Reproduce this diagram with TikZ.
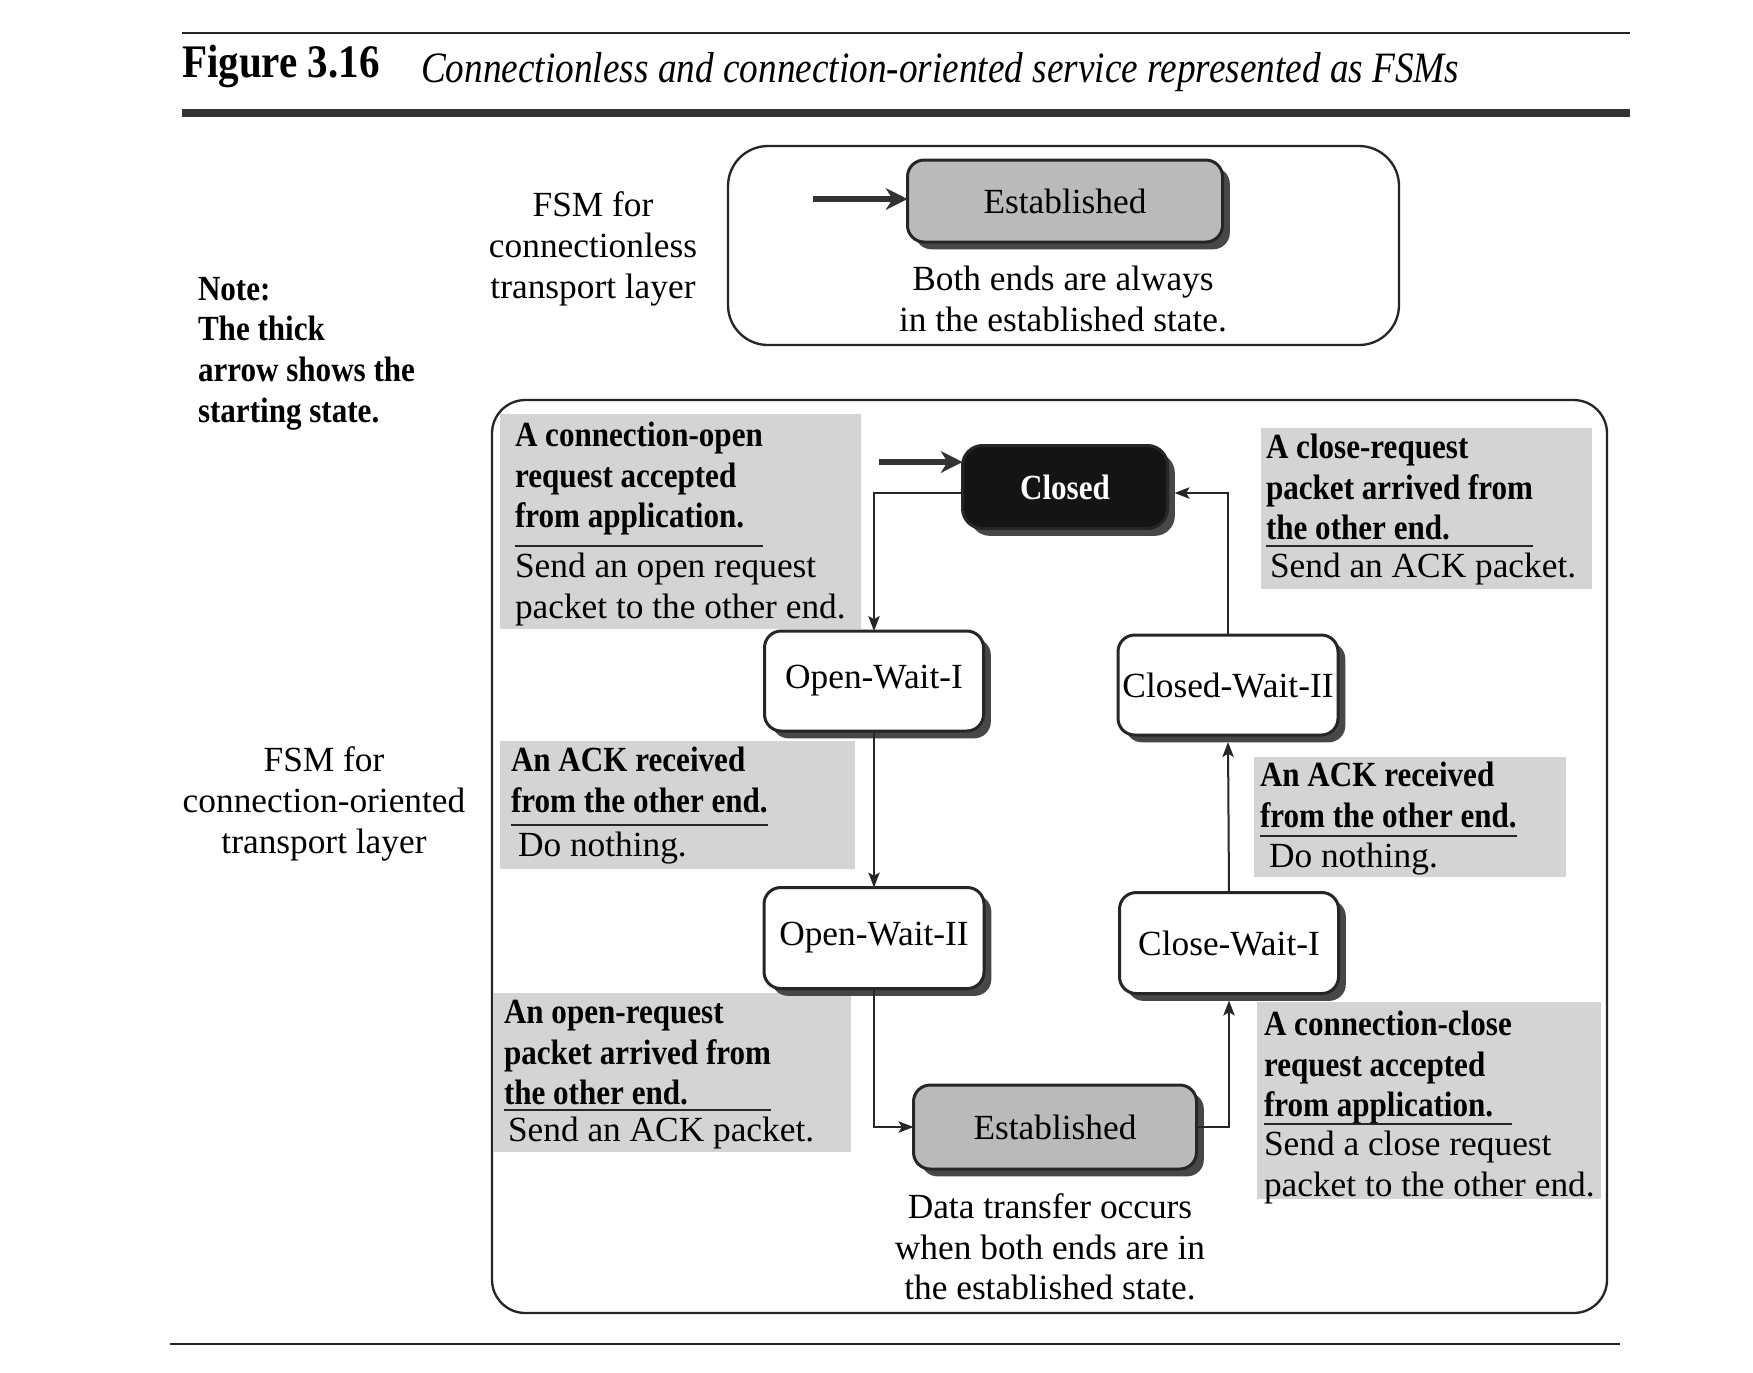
\documentclass[tikz,border=0pt]{standalone}
\usepackage{fontspec}
\setmainfont{Liberation Serif}[BoldFeatures={FakeStretch=0.88}]
\newfontfamily\capfont{Liberation Serif}[FakeStretch=0.86]
\usetikzlibrary{arrows.meta,shadows,calc}

\begin{document}
\begin{tikzpicture}[x=0.3pt,y=-0.3pt,
  every node/.style={inner sep=0pt,outer sep=0pt},
  txt/.style={font=\fontsize{10.6}{12.2}\selectfont},
  fsmlabel/.style={txt,align=center},
  condtxt/.style={font=\fontsize{10.6}{12.2}\selectfont\bfseries,align=left,anchor=north west},
  acttxt/.style={txt,align=left,anchor=north west},
  frameline/.style={draw=black!85,line width=0.7pt},
  statebox/.style={draw=black!85,line width=0.9pt,rounded corners=5pt,align=center,txt,
     drop shadow={shadow xshift=2.2pt,shadow yshift=-2.2pt,fill=black!72,opacity=1}},
  stateplain/.style={statebox,fill=white},
  stateest/.style={statebox,fill=black!27},
  statestart/.style={statebox,fill=black!92,text=white,
     font=\fontsize{10.6}{12}\selectfont\bfseries,rounded corners=6pt},
  trans/.style={draw=black!85,line width=0.6pt,-{Stealth[length=4.5pt,width=3.4pt,inset=1pt]}},
  initarrow/.style={draw=black!80,line width=2pt,-{Stealth[length=6.5pt,width=6.5pt,inset=2pt]}},
  seprule/.style={draw=black!85,line width=0.6pt},
  notebg/.style={fill=black!17},
]
\useasboundingbox (0,0) rectangle (1753,1372);
\fill[white] (0,0) rectangle (1753,1372);

% heading rules and caption
\draw[frameline] (182,33) -- (1630,33);
\draw[draw=black!80,line width=2.6pt] (182,113) -- (1630,113);
\draw[frameline] (170,1344) -- (1620,1344);
\node[anchor=base west,font=\fontsize{14}{16}\selectfont\bfseries] (fig) at (182,77) {Figure 3.16};
\node[anchor=base west,font=\capfont\itshape\fontsize{13}{15}\selectfont] (cap) at (421,82)
  {Connectionless and connection-oriented service represented as FSMs};

% outer frames
\draw[frameline,rounded corners=12pt] (728,146) rectangle (1399,345);
\draw[frameline,rounded corners=10pt] (492,400) rectangle (1607,1313);

% shaded transition labels
\fill[notebg] (500,414) rectangle (861,629);
\fill[notebg] (1261,428) rectangle (1592,589);
\fill[notebg] (500,741) rectangle (855,869);
\fill[notebg] (1254,757) rectangle (1566,877);
\fill[notebg] (493,993) rectangle (851,1152);
\fill[notebg] (1257,1002) rectangle (1601,1199);

% side texts
\node[txt,font=\fontsize{10.6}{12.2}\selectfont\bfseries,align=left,anchor=north west] (note) at (198,277)
  {Note:\\The thick\\arrow shows the\\starting state.};
\node[fsmlabel] (fsm0) at (593,249) {FSM for\\connectionless\\transport layer};
\node[fsmlabel] (fsm1) at (324,804) {FSM for\\connection-oriented\\transport layer};

% connectionless FSM
\node[stateest,minimum width=94.5pt,minimum height=24.6pt] (est0) at (1065,201) {Established};
\node[fsmlabel] (info0) at (1063,299) {Both ends are always\\in the established state.};
\coordinate (s0) at (813,199);
\draw[initarrow] (s0) -- (s0 -| est0.west);

% connection-oriented FSM states
\node[statestart,minimum width=61.5pt,minimum height=24.9pt] (closed) at (1065,487) {Closed};
\node[stateplain,minimum width=65.7pt,minimum height=30pt] (ow1) at (874,681) {Open-Wait-I};
\node[stateplain,minimum width=66pt,minimum height=30.3pt] (ow2) at (874,938) {Open-Wait-II};
\node[stateest,minimum width=84.9pt,minimum height=25.2pt] (est) at (1055,1127) {Established};
\node[stateplain,minimum width=65.7pt,minimum height=30.3pt] (cw1) at (1229,943) {Close-Wait-I};
\node[stateplain,minimum width=66pt,minimum height=30pt] (cw2) at (1228,685) {Closed-Wait-II};
\node[fsmlabel] (info1) at (1050,1247) {Data transfer occurs\\when both ends are in\\the established state.};

% transitions
\coordinate (s1) at (879,462);
\draw[initarrow] (s1) -- (s1 -| closed.west);
\draw[trans] ($(closed.west)+(0,6)$) -| (ow1.north);
\draw[trans] (ow1.south) -- (ow2.north);
\draw[trans] (ow2.south) |- (est.west);
\draw[trans] (est.east) -| ($(cw1.south)+(0,7)$);
\draw[trans] (cw1.north) -- ($(cw2.south)+(0,7)$);
\draw[trans] (cw2.north) |- ($(closed.east)+(7,6)$);

% transition labels: event above the rule, action below
\node[condtxt] (c1) at (515,422) {A connection-open\\request accepted\\from application.};
\node[acttxt] (a1) at (515,553) {Send an open request\\packet to the other end.};
\node[condtxt] (c2) at (1266,434) {A close-request\\packet arrived from\\the other end.};
\node[acttxt] (a2) at (1270,553) {Send an ACK packet.};
\node[condtxt] (c3) at (511,747) {An ACK received\\from the other end.};
\node[acttxt] (a3) at (518,832) {Do nothing.};
\node[condtxt] (c4) at (1260,762) {An ACK received\\from the other end.};
\node[acttxt] (a4) at (1269,843) {Do nothing.};
\node[condtxt] (c5) at (504,1000) {An open-request\\packet arrived from\\the other end.};
\node[acttxt] (a5) at (508,1117) {Send an ACK packet.};
\node[condtxt] (c6) at (1264,1011) {A connection-close\\request accepted\\from application.};
\node[acttxt] (a6) at (1264,1131) {Send a close request\\packet to the other end.};

\foreach \c/\a in {c1/a1,c2/a2,c3/a3,c4/a4,c5/a5,c6/a6}
  \draw[seprule] ($(\c.west |- \a.north)+(0,-7)$) -- ($(\c.east |- \a.north)+(0,-7)$);
\end{tikzpicture}
\end{document}
